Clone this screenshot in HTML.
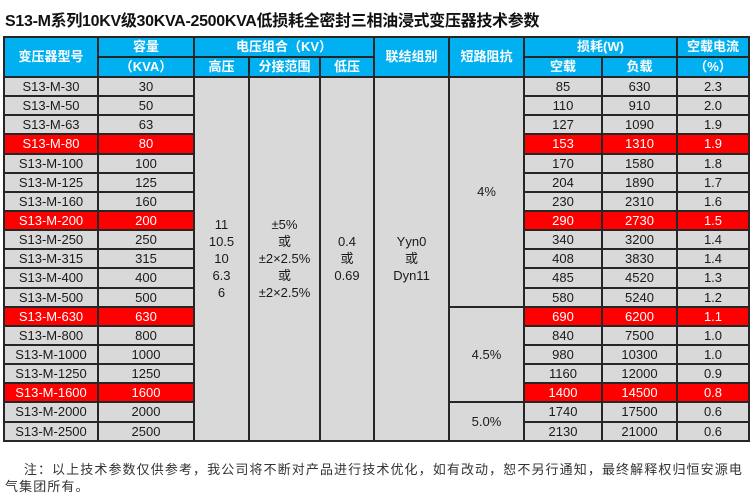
<!DOCTYPE html>
<html><head><meta charset="utf-8">
<style>
body{margin:0;width:750px;height:493px;background:#fff;position:relative;overflow:hidden;font-family:"Liberation Sans","Noto Sans CJK SC",sans-serif;}
#title{position:absolute;left:5px;top:7px;font-size:16px;font-weight:bold;color:#111;letter-spacing:-0.3px;white-space:nowrap;}
table{position:absolute;left:3px;top:36px;width:745px;border-collapse:collapse;table-layout:fixed;}
td{border:2px solid #262626;background:#d9d9d9;color:#1a1a1a;font-size:13px;text-align:center;padding:0;height:17.15px;line-height:15px;overflow:hidden;white-space:nowrap;}
tr.h td{background:#00b0f0;color:#fff;font-weight:bold;height:18px;line-height:16px;font-size:13px;}
tr.r td.c{background:#ff0000;color:#fff;}
td.m{line-height:17px;}
#note{position:absolute;left:5px;top:461px;font-size:13px;color:#333;line-height:17px;width:740px;letter-spacing:1.1px;}
</style></head><body>
<div id="title">S13-M系列10KV级30KVA-2500KVA低损耗全密封三相油浸式变压器技术参数</div>
<table>
<colgroup><col style="width:94px"><col style="width:96px"><col style="width:55px"><col style="width:71px"><col style="width:54px"><col style="width:75px"><col style="width:75px"><col style="width:78px"><col style="width:75px"><col style="width:72px"></colgroup>
<tr class="h">
<td rowspan="2">变压器型号</td>
<td>容量</td>
<td colspan="3">电压组合（KV）</td>
<td rowspan="2">联结组别</td>
<td rowspan="2">短路阻抗</td>
<td colspan="2">损耗(W)</td>
<td>空载电流</td>
</tr>
<tr class="h">
<td>（KVA）</td>
<td>高压</td>
<td>分接范围</td>
<td>低压</td>
<td>空载</td>
<td>负载</td>
<td>（%）</td>
</tr>
<tbody id="tb"></tbody>
</table>
<div id="note">&nbsp;&nbsp;&nbsp;&nbsp;注：以上技术参数仅供参考，我公司将不断对产品进行技术优化，如有改动，恕不另行通知，最终解释权归恒安源电气集团所有。</div>
<script>
const caps=[30,50,63,80,100,125,160,200,250,315,400,500,630,800,1000,1250,1600,2000,2500];
const noload=[85,110,127,153,170,204,230,290,340,408,485,580,690,840,980,1160,1400,1740,2130];
const load=[630,910,1090,1310,1580,1890,2310,2730,3200,3830,4520,5240,6200,7500,10300,12000,14500,17500,21000];
const cur=["2.3","2.0","1.9","1.9","1.8","1.7","1.6","1.5","1.4","1.4","1.3","1.2","1.1","1.0","1.0","0.9","0.8","0.6","0.6"];
const red=[80,200,630,1600];
const tb=document.getElementById('tb');
caps.forEach((c,i)=>{
  const tr=document.createElement('tr');
  tr.className='r';
  
  
  const hi=red.includes(c);
  const add=(txt,name,extra)=>{
    const td=document.createElement('td');
    td.innerHTML=txt;
    if(hi&&!extra) td.className='c';
    if(extra){td.rowSpan=extra;td.className='m';}
    
    
    tr.appendChild(td);
  };
  add('S13-M-'+c,'model-cell');
  add(String(c),'capacity-cell');
  if(i===0){
    add('11<br>10.5<br>10<br>6.3<br>6','hv-cell',19);
    add('±5%<br>或<br>±2×2.5%<br>或<br>±2×2.5%','tap-cell',19);
    add('0.4<br>或<br>0.69','lv-cell',19);
    add('Yyn0<br>或<br>Dyn11','connection-cell',19);
    add('4%','impedance-cell',12);
  }
  if(i===12) add('4.5%','impedance-cell',5);
  if(i===17) add('5.0%','impedance-cell',2);
  add(String(noload[i]),'noload-cell');
  add(String(load[i]),'load-cell');
  add(cur[i],'current-cell');
  tb.appendChild(tr);
});
</script>
</body></html>
